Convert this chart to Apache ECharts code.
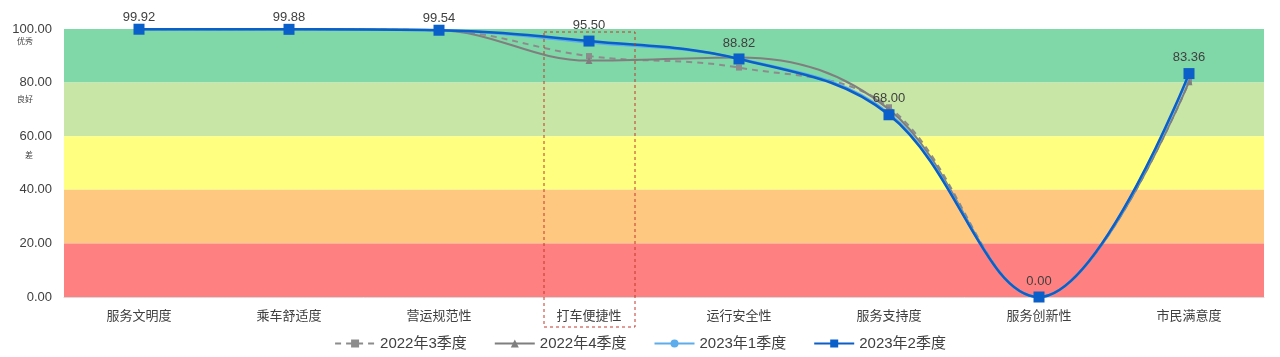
<!DOCTYPE html>
<html><head><meta charset="utf-8">
<script src="https://cdn.jsdelivr.net/npm/echarts@6/dist/echarts.min.js"></script>
<style>html,body{margin:0;padding:0;background:#fff}#c{width:1280px;height:357px}</style>
</head><body><div id="c"></div>
<script>
const categories = ['服务文明度','乘车舒适度','营运规范性','打车便捷性','运行安全性','服务支持度','服务创新性','市民满意度'];
const q3_2022 = [99.9, 99.9, 99.5, 89.9, 85.6, 70.8, 0, 80.2];
const q4_2022 = [99.9, 99.9, 99.5, 88.2, 89.4, 70.0, 0, 80.3];
const q1_2023 = [99.9, 99.9, 99.5, 95.0, 88.9, 68.5, 0, 82.8];
const q2_2023 = [99.92, 99.88, 99.54, 95.50, 88.82, 68.00, 0.00, 83.36];
const seriesNames = ['2022年3季度','2022年4季度','2023年1季度','2023年2季度'];
const bands = [[80,100,'#80D8A8'],[60,80,'#C8E6A6'],[40,60,'#FFFF80'],[20,40,'#FFC880'],[0,20,'#FF8080']];
const gradeLabels = [['优秀',100],['良好',80],['差',60]];
const yTicks = {min:0, max:100, interval:20};
const highlightCat = '打车便捷性';

const FF = 'Liberation Sans, Arial, Noto Sans CJK SC, sans-serif';
const SM = 0.38;
const chart = echarts.init(document.getElementById('c'));
const option = {
  animation:false,
  textStyle:{fontFamily:FF},
  grid:{left:64,right:16,top:29,bottom:60},
  legend:{
    data:seriesNames, left:'center', top:331, itemWidth:40, itemHeight:10, itemGap:27,
    textStyle:{fontSize:15,color:'#404040',fontFamily:FF}
  },
  xAxis:{type:'category',data:categories,boundaryGap:true,
    axisLine:{lineStyle:{color:'#D9D9D9'}},axisTick:{show:false},
    axisLabel:{fontSize:13,color:'#404040',margin:13,fontFamily:FF}},
  yAxis:{type:'value',min:yTicks.min,max:yTicks.max,interval:yTicks.interval,
    axisLine:{show:false},axisTick:{show:false},splitLine:{show:false},
    axisLabel:{fontSize:13,color:'#404040',margin:12,formatter:v=>v.toFixed(2),fontFamily:FF}},
  series:[
    {name:seriesNames[0],type:'line',data:q3_2022,smooth:SM,z:2,
      lineStyle:{color:'#8C8C8C',width:2,type:[6,5]},itemStyle:{color:'#8C8C8C'},
      symbol:'rect',symbolSize:6,
      markArea:{silent:true,itemStyle:{opacity:1},
        data:bands.map(b=>[{yAxis:b[0],itemStyle:{color:b[2]}},{yAxis:b[1]}])}},
    {name:seriesNames[1],type:'line',data:q4_2022,smooth:SM,z:3,
      lineStyle:{color:'#7F7F7F',width:2},itemStyle:{color:'#7F7F7F'},
      symbol:'triangle',symbolSize:7},
    {name:seriesNames[2],type:'line',data:q1_2023,smooth:SM,z:4,
      lineStyle:{color:'#5DADEC',width:2.5},itemStyle:{color:'#5DADEC'},
      symbol:'circle',symbolSize:5},
    {name:seriesNames[3],type:'line',smooth:SM,z:5,
      data:q2_2023.map(v => v > 99 ? {value:v,label:{distance:0}} : v),
      lineStyle:{color:'#0A5FC8',width:2.5},itemStyle:{color:'#0A5FC8'},
      symbol:'rect',symbolSize:11,
      label:{show:true,position:'top',distance:4,fontSize:13,color:'#404040',
        formatter:p=>p.value.toFixed(2),fontFamily:FF}}
  ]
};
chart.setOption(option);

const cx = chart.convertToPixel({xAxisIndex:0}, highlightCat);
const graphics = [{
  type:'rect', shape:{x:cx-45, y:32, width:91, height:295},
  style:{fill:'none', stroke:'#C0392B', lineWidth:1, lineDash:[3,3]}, z:100
}];
const gradeOffsets = [14,18,21];
gradeLabels.forEach((g,i)=>{
  const py = chart.convertToPixel({yAxisIndex:0}, g[1]);
  graphics.push({type:'text', left: i===2 ? 25 : 17, top: py + gradeOffsets[i] - 5,
    style:{text:g[0], fontSize:8, fill:'#404040', fontFamily:FF}, z:100});
});
chart.setOption({graphic:graphics});
</script></body></html>
